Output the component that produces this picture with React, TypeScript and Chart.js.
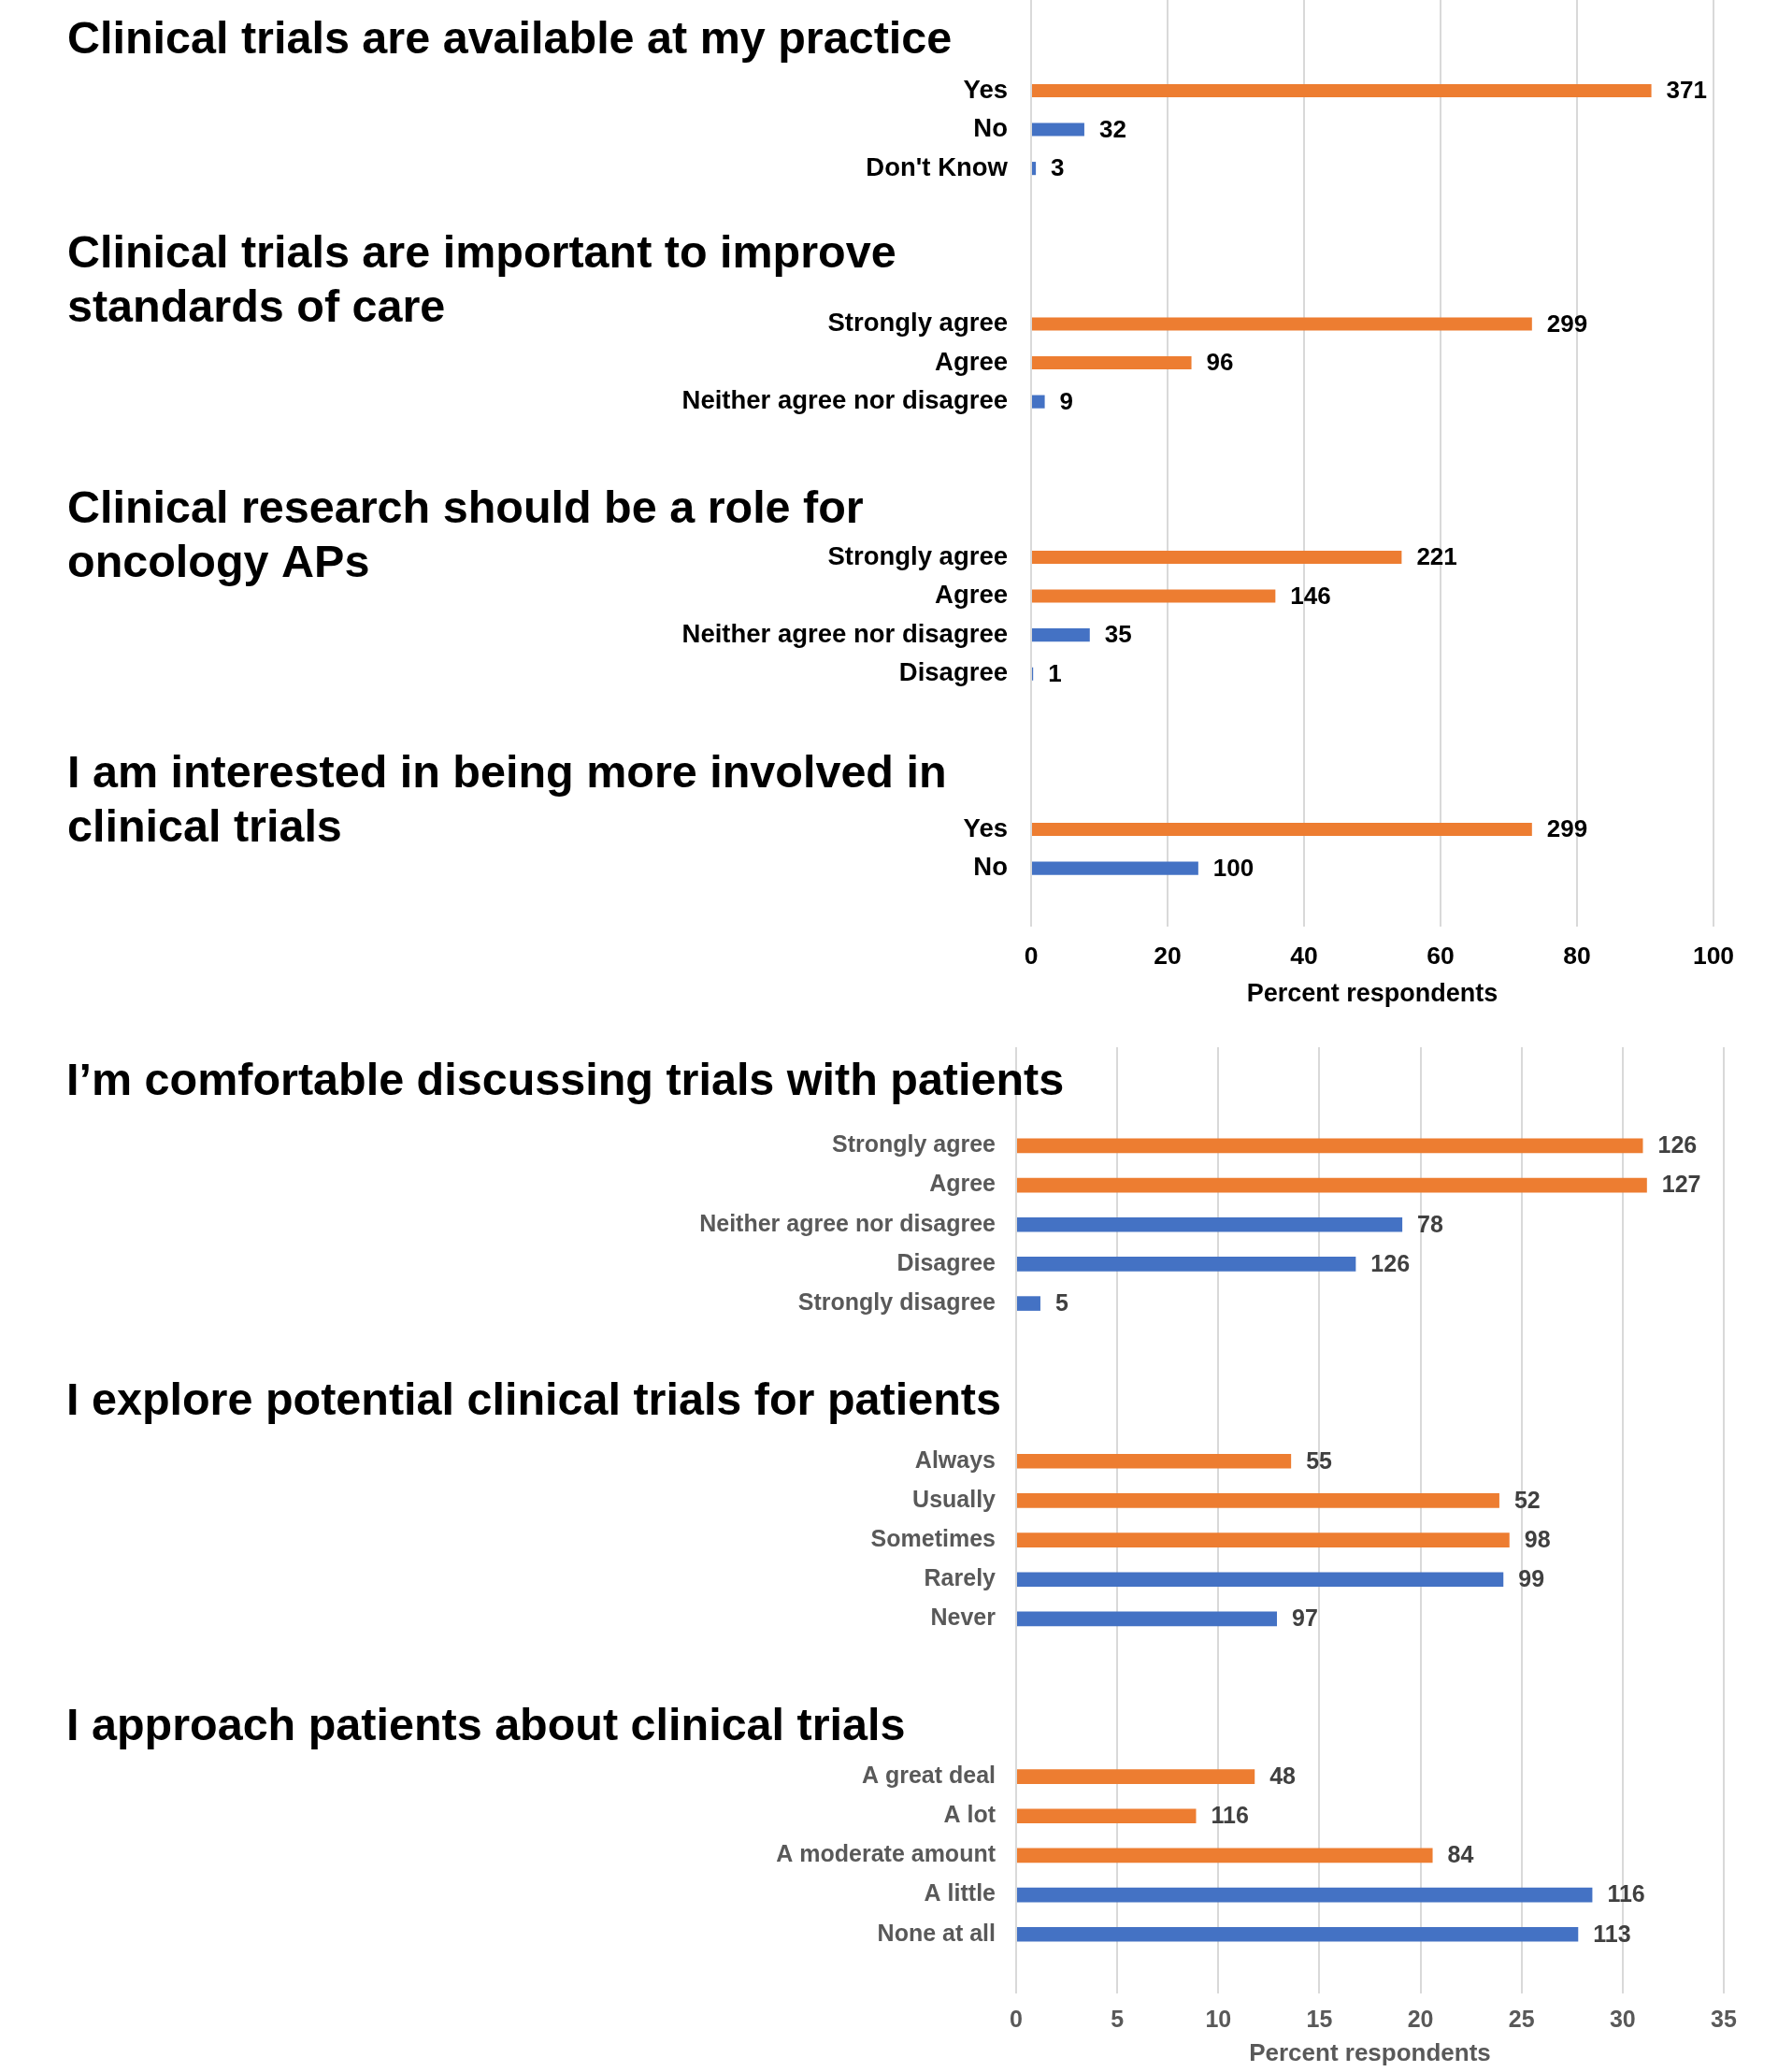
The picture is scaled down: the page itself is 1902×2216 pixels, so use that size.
import React, { useEffect, useRef } from "react";
import { Chart, registerables } from "chart.js";

Chart.register(...registerables);

// ---------- data ----------
const ORANGE = "#ED7D31";
const BLUE = "#4472C4";

// Top panel (percent respondents, labels show counts)
const availableCats = ["Yes", "No", "Don't Know"];
const availablePct = [90.9, 7.8, 0.7];
const availableCounts = [371, 32, 3];

const importantCats = ["Strongly agree", "Agree", "Neither agree nor disagree"];
const importantPct = [73.4, 23.5, 2.0];
const importantCounts = [299, 96, 9];

const roleCats = ["Strongly agree", "Agree", "Neither agree nor disagree", "Disagree"];
const rolePct = [54.3, 35.8, 8.6, 0.3];
const roleCounts = [221, 146, 35, 1];

const interestCats = ["Yes", "No"];
const interestPct = [73.4, 24.5];
const interestCounts = [299, 100];

const topTitles = [
  ["Clinical trials are available at my practice"],
  ["Clinical trials are important to improve", "standards of care"],
  ["Clinical research should be a role for", "oncology APs"],
  ["I am interested in being more involved in", "clinical trials"],
];
const topTicks = [0, 20, 40, 60, 80, 100];

// Bottom panel
const comfortCats = ["Strongly agree", "Agree", "Neither agree nor disagree", "Disagree", "Strongly disagree"];
const comfortPct = [31.0, 31.2, 19.1, 16.8, 1.2];
const comfortCounts = [126, 127, 78, 126, 5];

const exploreCats = ["Always", "Usually", "Sometimes", "Rarely", "Never"];
const explorePct = [13.6, 23.9, 24.4, 24.1, 12.9];
const exploreCounts = [55, 52, 98, 99, 97];

const approachCats = ["A great deal", "A lot", "A moderate amount", "A little", "None at all"];
const approachPct = [11.8, 8.9, 20.6, 28.5, 27.8];
const approachCounts = [48, 116, 84, 116, 113];

const bottomTitles = [
  ["I\u2019m comfortable discussing trials with patients"],
  ["I explore potential clinical trials for patients"],
  ["I approach patients about clinical trials"],
];
const bottomTicks = [0, 5, 10, 15, 20, 25, 30, 35];

const axisTitle = "Percent respondents";

// ---------- helpers ----------
type Section = { cats: string[]; pct: number[]; counts: number[]; nOrange: number };

function buildRows(sections: Section[], lead: number, gap: number, trail: number) {
  const labels: string[] = [];
  const values: (number | null)[] = [];
  const counts: (number | null)[] = [];
  const colors: string[] = [];
  const blank = () => {
    labels.push("");
    values.push(null);
    counts.push(null);
    colors.push("rgba(0,0,0,0)");
  };
  for (let i = 0; i < lead; i++) blank();
  sections.forEach((s, si) => {
    if (si > 0) for (let i = 0; i < gap; i++) blank();
    s.cats.forEach((c, i) => {
      labels.push(c);
      values.push(s.pct[i]);
      counts.push(s.counts[i]);
      colors.push(i < s.nOrange ? ORANGE : BLUE);
    });
  });
  for (let i = 0; i < trail; i++) blank();
  return { labels, values, counts, colors };
}

type PanelCfg = {
  pageTop: number;
  height: number;
  padTop: number;
  axisLeft: number;
  axisRight: number;
  xAxisHeight: number;
  max: number;
  ticks: number[];
  barPct: number;
  textColor: string;
  valueColor: string;
  labelFont: number;
  tickFont: number;
  tickPad: number;
  labelPad: number;
  valueFont: number;
  axisTitleFont: number;
  axisTitlePadBottom: number;
  titles: string[][];
  titleBaselines: number[]; // page y of first line baseline
  titleLineHeight: number;
  titleFont: number;
  titleX: number;
};

const FAMILY = "'Liberation Sans', Arial, Helvetica, sans-serif";

function Panel({ sections, cfg }: { sections: Section[]; cfg: PanelCfg }) {
  const ref = useRef<HTMLCanvasElement>(null);
  useEffect(() => {
    const rows = buildRows(sections, 2, 3, 1);
    const titlePlugin = {
      id: "sectionTitles",
      afterDraw(chart: any) {
        const ctx = chart.ctx;
        ctx.save();
        ctx.fillStyle = "#000000";
        ctx.textAlign = "left";
        ctx.textBaseline = "alphabetic";
        ctx.font = `bold ${cfg.titleFont}px ${FAMILY}`;
        cfg.titles.forEach((lines, ti) => {
          lines.forEach((line, li) => {
            const y = cfg.titleBaselines[ti] + li * cfg.titleLineHeight - cfg.pageTop;
            ctx.fillText(line, cfg.titleX, y);
          });
        });
        ctx.restore();
      },
    };
    const valuePlugin = {
      id: "valueLabels",
      afterDatasetsDraw(chart: any) {
        const ctx = chart.ctx;
        const meta = chart.getDatasetMeta(0);
        ctx.save();
        ctx.fillStyle = cfg.valueColor;
        ctx.textAlign = "left";
        ctx.textBaseline = "middle";
        ctx.font = `bold ${cfg.valueFont}px ${FAMILY}`;
        meta.data.forEach((el: any, i: number) => {
          const c = rows.counts[i];
          if (c === null || c === undefined) return;
          ctx.fillText(String(c), el.x + 16, el.y + 1);
        });
        ctx.restore();
      },
    };
    const chart = new Chart(ref.current as HTMLCanvasElement, {
      type: "bar",
      data: {
        labels: rows.labels,
        datasets: [
          {
            data: rows.values as any,
            backgroundColor: rows.colors,
            borderWidth: 0,
            categoryPercentage: 1,
            barPercentage: cfg.barPct,
          },
        ],
      },
      options: {
        indexAxis: "y",
        animation: false,
        responsive: false,
        devicePixelRatio: 1,
        layout: {
          padding: { left: 0, right: 1902 - cfg.axisRight, top: cfg.padTop, bottom: 0 },
        },
        plugins: {
          legend: { display: false },
          tooltip: { enabled: false },
          title: { display: false },
        },
        scales: {
          x: {
            type: "linear",
            position: "bottom",
            min: 0,
            max: cfg.max,
            afterBuildTicks: (scale: any) => {
              scale.ticks = cfg.ticks.map((v) => ({ value: v }));
            },
            ticks: {
              color: cfg.textColor,
              font: { family: FAMILY, size: cfg.tickFont, weight: "bold" },
              padding: cfg.tickPad,
              maxRotation: 0,
            },
            grid: { color: "#D9D9D9", lineWidth: 2, drawTicks: false },
            border: { display: false },
            title: {
              display: true,
              text: axisTitle,
              color: cfg.textColor,
              font: { family: FAMILY, size: cfg.axisTitleFont, weight: "bold" },
              padding: { top: 0, bottom: cfg.axisTitlePadBottom },
            },
            afterFit: (scale: any) => {
              scale.height = cfg.xAxisHeight;
              scale.paddingLeft = 0;
              scale.paddingRight = 0;
            },
          },
          y: {
            type: "category",
            ticks: {
              color: cfg.textColor,
              font: { family: FAMILY, size: cfg.labelFont, weight: "bold" },
              padding: cfg.labelPad,
              autoSkip: false,
            },
            grid: { display: false, drawTicks: false },
            border: { display: false },
            afterFit: (scale: any) => {
              scale.width = cfg.axisLeft;
              scale.paddingTop = 0;
              scale.paddingBottom = 0;
            },
          },
        },
      } as any,
      plugins: [titlePlugin, valuePlugin],
    });
    return () => chart.destroy();
  }, []);
  return (
    <canvas
      ref={ref}
      width={1902}
      height={cfg.height}
      style={{ position: "absolute", left: 0, top: cfg.pageTop, width: 1902, height: cfg.height }}
    />
  );
}

const topSections: Section[] = [
  { cats: availableCats, pct: availablePct, counts: availableCounts, nOrange: 1 },
  { cats: importantCats, pct: importantPct, counts: importantCounts, nOrange: 2 },
  { cats: roleCats, pct: rolePct, counts: roleCounts, nOrange: 2 },
  { cats: interestCats, pct: interestPct, counts: interestCounts, nOrange: 1 },
];

const bottomSections: Section[] = [
  { cats: comfortCats, pct: comfortPct, counts: comfortCounts, nOrange: 2 },
  { cats: exploreCats, pct: explorePct, counts: exploreCounts, nOrange: 3 },
  { cats: approachCats, pct: approachPct, counts: approachCounts, nOrange: 3 },
];

const topCfg: PanelCfg = {
  pageTop: -7,
  height: 1098,
  padTop: 0,
  axisLeft: 1103,
  axisRight: 1833,
  xAxisHeight: 100,
  max: 100,
  ticks: topTicks,
  barPct: 0.34,
  textColor: "#000000",
  valueColor: "#000000",
  labelFont: 27.5,
  tickFont: 26.5,
  tickPad: 17,
  labelPad: 25,
  valueFont: 26,
  axisTitleFont: 27,
  axisTitlePadBottom: 11.5,
  titles: topTitles,
  titleBaselines: [57, 286, 559, 842],
  titleLineHeight: 58,
  titleFont: 48.5,
  titleX: 72,
};

const bottomCfg: PanelCfg = {
  pageTop: 1100,
  height: 1116,
  padTop: 20,
  axisLeft: 1087,
  axisRight: 1844,
  xAxisHeight: 84,
  max: 35,
  ticks: bottomTicks,
  barPct: 0.37,
  textColor: "#595959",
  valueColor: "#404040",
  labelFont: 25,
  tickFont: 25,
  tickPad: 14.5,
  labelPad: 22,
  valueFont: 25,
  axisTitleFont: 26,
  axisTitlePadBottom: 3.4,
  titles: bottomTitles,
  titleBaselines: [1171, 1513, 1861],
  titleLineHeight: 58,
  titleFont: 48.5,
  titleX: 71,
};

export default function App() {
  return (
    <div
      style={{
        position: "absolute",
        left: 0,
        top: 0,
        width: 1902,
        height: 2216,
        overflow: "hidden",
        background: "#ffffff",
      }}
    >
      <Panel sections={topSections} cfg={topCfg} />
      <Panel sections={bottomSections} cfg={bottomCfg} />
    </div>
  );
}
